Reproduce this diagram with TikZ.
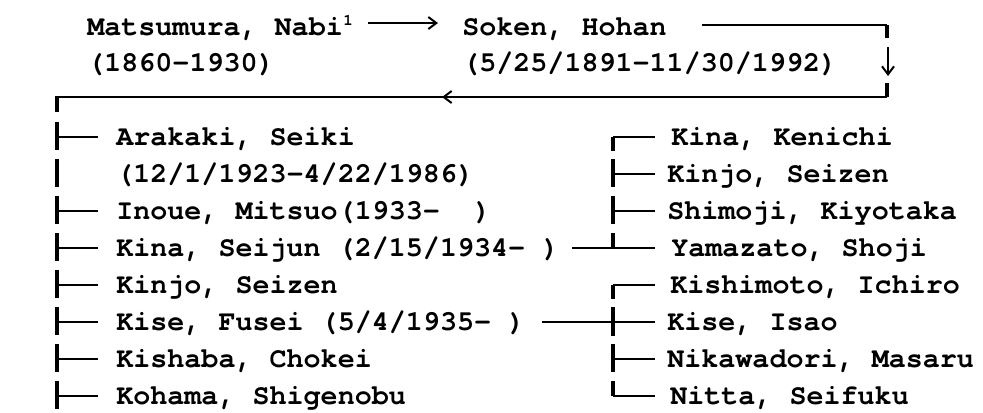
\documentclass[tikz,border=0pt]{standalone}
\usepackage{fontspec}
\setmainfont{texgyrecursor}[Extension=.otf,UprightFont=*-regular,BoldFont=*-bold,ItalicFont=*-italic,BoldItalicFont=*-bolditalic]
\usetikzlibrary{arrows.meta}
\begin{document}
\begin{tikzpicture}[x=0.75pt,y=-0.75pt,
  txt/.style={anchor=base west,inner sep=0pt,font=\fontsize{21.3}{25}\selectfont\bfseries},
  suptxt/.style={anchor=base west,inner sep=0pt,font=\fontsize{12}{14}\selectfont\bfseries},
  vline/.style={line width=2.4pt},
  hline/.style={line width=1.1pt},
  barb/.style={-{Straight Barb[length=6pt,width=9pt,line width=1.5pt]}}]
\useasboundingbox (0,0) rectangle (983,412);
% ---------- top ----------
\node[txt] (m1) at (87,35) {Matsumura, Nabi};
\node[suptxt] (sup) at (343,25) {1};
\node[txt] (m2) at (87,71) {(1860–1930)};
\node[txt] (s1) at (462,35) {Soken, Hohan};
\node[txt] (s2) at (462,71) {(5/25/1891–11/30/1992)};
\coordinate (aS) at (368,23);
\coordinate (aE) at (438,23);
\draw[hline,barb] (aS) -- (aE);
\coordinate (tA) at (702,25);
\coordinate (tB) at (887,25);
\coordinate (tC) at (887,38);
\coordinate (dA) at (888,47);
\coordinate (dB) at (888,76);
\coordinate (tD) at (887,83);
\coordinate (tE) at (887,97);
\coordinate (tF) at (57,97);
\coordinate (tG) at (57,112);
\coordinate (lA) at (471,97);
\coordinate (lB) at (442,97);
\draw[hline] (tA) -- (tB);
\draw[vline] (tB) -- (tC);
\draw[hline,barb] (dA) -- (dB);
\draw[vline] (tD) -- (tE);
\draw[hline] (tE) -- (tF);
\draw[hline,barb] (lA) -- (lB);
\draw[vline] ([yshift=0.5pt]tF) -- (tG);
% ---------- left column ----------
\node[txt] (l1) at (116,145.5) {Arakaki, Seiki};
\node[txt] (l2) at (116,182.5) {(12/1/1923–4/22/1986)};
\node[txt] (l3) at (116,219.5) {Inoue, Mitsuo(1933-\ \ )};
\node[txt] (l4) at (116,256.5) {Kina, Seijun (2/15/1934- )};
\node[txt] (l5) at (116,293.5) {Kinjo, Seizen};
\node[txt] (l6) at (116,330.5) {Kise, Fusei (5/4/1935- )};
\node[txt] (l7) at (116,367.5) {Kishaba, Chokei};
\node[txt] (l8) at (116,404.5) {Kohama, Shigenobu};
\foreach \c in {137,174,211,248,285,322,359,396}{
  \draw[vline] (57,\c-15) -- (57,\c+13);
}
\foreach \c in {137,211,248,285,322,359,396}{
  \coordinate (lt\c) at (57,\c);
  \draw[hline] (lt\c) -- ++(41,0);
}
% ---------- right column ----------
\node[txt] (r1) at (671,145.5) {Kina, Kenichi};
\node[txt] (r2) at (667,182.5) {Kinjo, Seizen};
\node[txt] (r3) at (667,219.5) {Shimoji, Kiyotaka};
\node[txt] (r4) at (671,256.5) {Yamazato, Shoji};
\node[txt] (r5) at (670,293.5) {Kishimoto, Ichiro};
\node[txt] (r6) at (667,330.5) {Kise, Isao};
\node[txt] (r7) at (667,367.5) {Nikawadori, Masaru};
\node[txt] (r8) at (670,404.5) {Nitta, Seifuku};
% ticks
\foreach \c in {137,174,211,248,285,322,359,396}{
  \coordinate (rt\c) at (613,\c);
  \coordinate (re\c) at (655,\c);
}
\draw[vline] (613,137) -- (613,151);
\draw[hline] (rt137) -- (re137);
\draw[vline] (613,159) -- (613,187);
\draw[hline] (rt174) -- (re174);
\draw[vline] (613,196) -- (613,224);
\draw[hline] (rt211) -- (re211);
\draw[vline] (613,233) -- (rt248);
\coordinate (k4) at (572,248);
\draw[hline] (k4) -- (re248);
\draw[vline] (rt285) -- (613,299);
\draw[hline] (rt285) -- (re285);
\draw[vline] (613,307) -- (613,336);
\coordinate (k6) at (542,322);
\draw[hline] (k6) -- (re322);
\draw[vline] (613,344) -- (613,372);
\draw[hline] (rt359) -- (re359);
\draw[vline] (613,381) -- (rt396);
\draw[hline] (rt396) -- (re396);
\end{tikzpicture}
\end{document}
